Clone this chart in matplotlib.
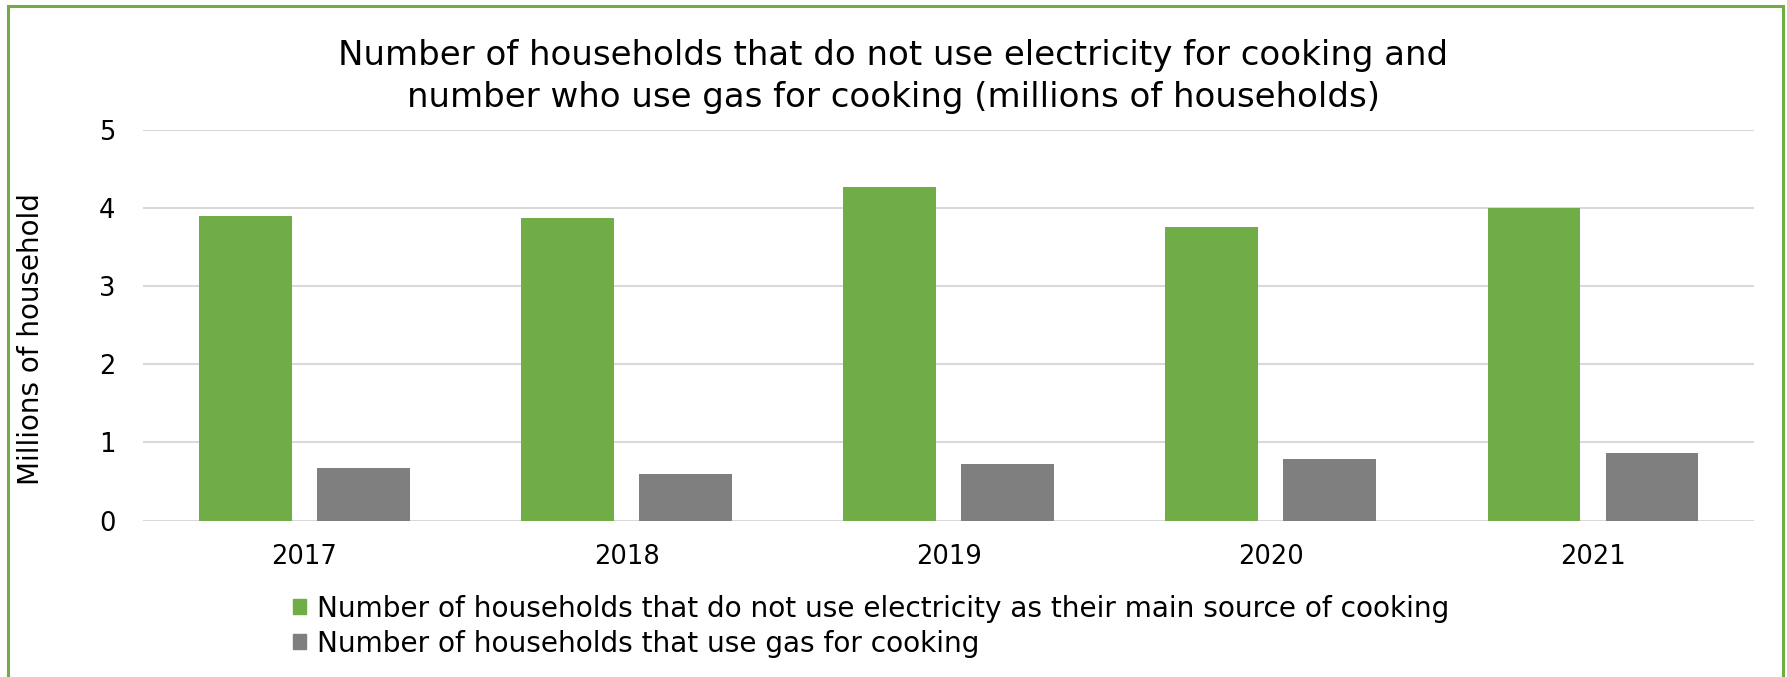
import matplotlib
matplotlib.use("Agg")
import matplotlib.pyplot as plt
from matplotlib.patches import Rectangle, Patch
import numpy as np

years = ["2017", "2018", "2019", "2020", "2021"]
no_electricity = [3.90, 3.87, 4.27, 3.75, 4.00]
gas_cooking = [0.68, 0.60, 0.72, 0.79, 0.86]
series_labels = [
    "Number of households that do not use electricity as their main source of cooking",
    "Number of households that use gas for cooking",
]
title = ("Number of households that do not use electricity for cooking and\n"
         "number who use gas for cooking (millions of households)")
ylabel = "Millions of household"

GREEN = "#70AD47"
GRAY = "#7F7F7F"

plt.rcParams['font.family'] = ['DejaVu Sans']

fig = plt.figure(figsize=(17.87, 6.77), dpi=100)
ax = fig.add_axes([0.0802, 0.2309, 0.9013, 0.5775])

x = np.arange(len(years))
w = 0.2875
off = 0.183
ax.bar(x - off, no_electricity, width=w, color=GREEN, zorder=3)
ax.bar(x + off, gas_cooking, width=w, color=GRAY, zorder=3)

ax.set_xlim(-0.5, len(years) - 0.5)
ax.set_ylim(0, 5)
ax.set_yticks(range(0, 6))
ax.set_xticks(x)
ax.set_xticklabels(years)
ax.yaxis.grid(True, color="#D9D9D9", linewidth=1.5, zorder=0)
ax.set_axisbelow(True)
for s in ax.spines.values():
    s.set_visible(False)
ax.tick_params(axis='both', length=0, labelsize=18.5, colors="#000000")
ax.tick_params(axis='y', pad=20)
ax.tick_params(axis='x', pad=17)

fig.text(0.0175, 0.499, ylabel, rotation=90, ha='center', va='center', fontsize=20)
fig.text(0.5, 0.887, title, ha='center', va='center', fontsize=24.5, linespacing=1.38)

handles = [Patch(color=GREEN), Patch(color=GRAY)]
fig.legend(handles, series_labels, loc='center left', bbox_to_anchor=(0.164, 0.075),
           frameon=False, fontsize=20.2, handlelength=0.45, handleheight=0.45,
           handletextpad=0.4, labelspacing=0.25, borderpad=0, borderaxespad=0)

border = Rectangle((8 / 1787, -0.02), (1783 - 8) / 1787, 1 - 6 / 677 + 0.02,
                   transform=fig.transFigure, fill=False, edgecolor=GREEN,
                   linewidth=2.2, zorder=10)
fig.patches.append(border)

fig.savefig("out.png", dpi=100, facecolor="white")
